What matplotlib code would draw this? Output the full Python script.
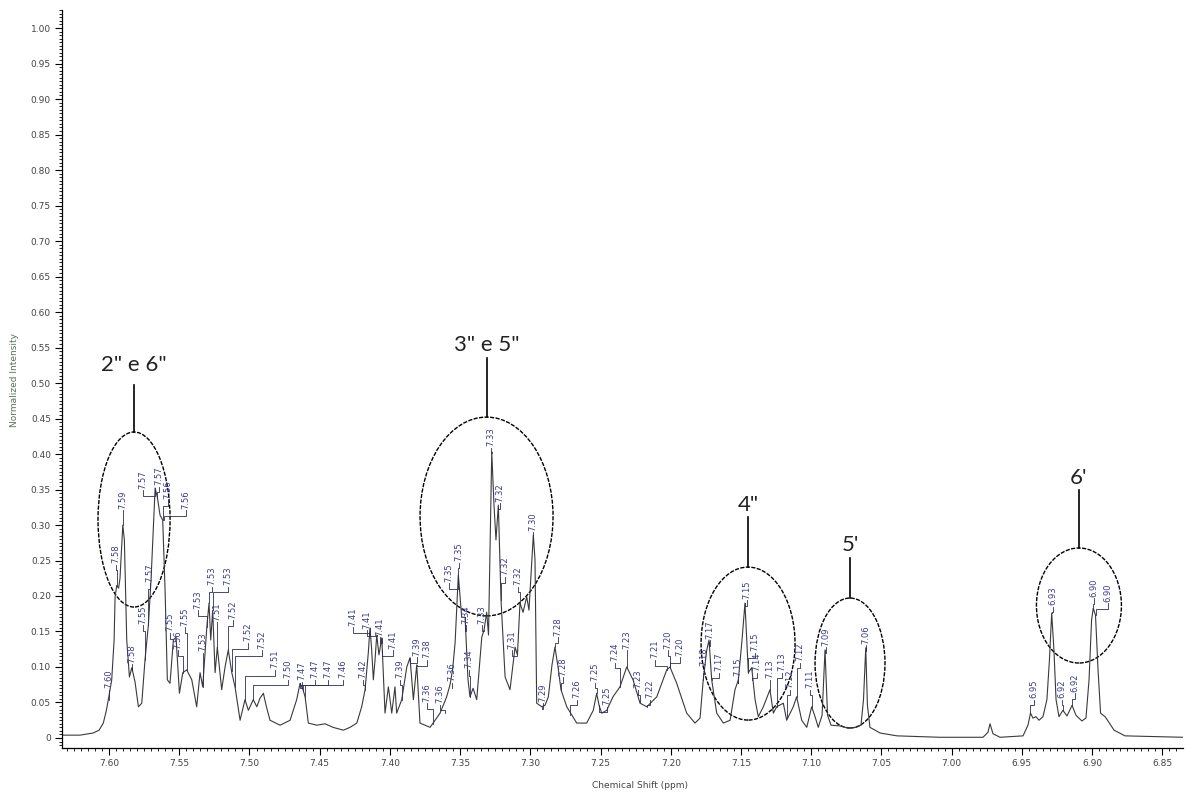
import matplotlib
matplotlib.use("Agg")
import matplotlib.pyplot as plt
from matplotlib.patches import Ellipse
from matplotlib.ticker import MultipleLocator, FuncFormatter

# spectrum trace (ppm, normalized intensity)
shift = [7.6335, 7.6207, 7.6114, 7.6071, 7.6041, 7.6021, 7.6005, 7.5981, 7.5964, 7.5957,
         7.5945, 7.5932, 7.5922, 7.5902, 7.5891, 7.5874, 7.5855, 7.5838, 7.5815, 7.5791,
         7.5767, 7.5744, 7.5720, 7.5701, 7.5672, 7.5656, 7.5637, 7.5618, 7.5601, 7.5585,
         7.5566, 7.5542, 7.5523, 7.5499, 7.5475, 7.5447, 7.5411, 7.5376, 7.5352, 7.5333,
         7.5304, 7.5288, 7.5276, 7.5262, 7.5245, 7.5229, 7.5198, 7.5174, 7.5151, 7.5126,
         7.5103, 7.5067, 7.5032, 7.5008, 7.4973, 7.4948, 7.4925, 7.4901, 7.4882, 7.4854,
         7.4782, 7.4711, 7.4664, 7.4640, 7.4619, 7.4604, 7.4581, 7.4521, 7.4462, 7.4405,
         7.4332, 7.4284, 7.4236, 7.4201, 7.4177, 7.4154, 7.4142, 7.4130, 7.4118, 7.4106,
         7.4094, 7.4078, 7.4058, 7.4035, 7.4011, 7.3987, 7.3964, 7.3952, 7.3916, 7.3880,
         7.3857, 7.3833, 7.3809, 7.3786, 7.3714, 7.3643, 7.3596, 7.3572, 7.3554, 7.3536,
         7.3513, 7.3489, 7.3465, 7.3444, 7.3430, 7.3408, 7.3382, 7.3346, 7.3330, 7.3311,
         7.3298, 7.3275, 7.3259, 7.3245, 7.3228, 7.3209, 7.3180, 7.3145, 7.3109, 7.3092,
         7.3074, 7.3052, 7.3026, 7.3010, 7.2979, 7.2967, 7.2955, 7.2919, 7.2896, 7.2872,
         7.2846, 7.2825, 7.2803, 7.2782, 7.2741, 7.2670, 7.2599, 7.2552, 7.2528, 7.2511,
         7.2492, 7.2456, 7.2412, 7.2362, 7.2314, 7.2269, 7.2219, 7.2171, 7.2100, 7.2029,
         7.2006, 7.1958, 7.1887, 7.1828, 7.1792, 7.1769, 7.1744, 7.1728, 7.1709, 7.1673,
         7.1626, 7.1578, 7.1543, 7.1519, 7.1493, 7.1472, 7.1448, 7.1424, 7.1400, 7.1377,
         7.1341, 7.1294, 7.1270, 7.1246, 7.1199, 7.1175, 7.1128, 7.1104, 7.1068, 7.1032,
         7.0997, 7.0973, 7.0950, 7.0923, 7.0902, 7.0884, 7.0859, 7.0795, 7.0738, 7.0681,
         7.0646, 7.0628, 7.0612, 7.0600, 7.0582, 7.0510, 7.0389, 7.0083, 6.9777, 6.9742,
         6.9727, 6.9706, 6.9656, 6.9492, 6.9457, 6.9439, 6.9421, 6.9400, 6.9378, 6.9350,
         6.9322, 6.9304, 6.9288, 6.9272, 6.9257, 6.9236, 6.9208, 6.9179, 6.9143, 6.9115,
         6.9073, 6.9044, 6.9022, 6.9004, 6.8992, 6.8976, 6.8958, 6.8940, 6.8908, 6.8887,
         6.8844, 6.8766, 6.8353]
intensity = [0.004, 0.004, 0.007, 0.011, 0.021, 0.037, 0.054, 0.082, 0.138, 0.199,
             0.215, 0.211, 0.225, 0.300, 0.279, 0.138, 0.086, 0.099, 0.079, 0.044,
             0.049, 0.110, 0.159, 0.223, 0.352, 0.339, 0.314, 0.307, 0.208, 0.082,
             0.077, 0.138, 0.142, 0.063, 0.092, 0.096, 0.082, 0.044, 0.092, 0.072,
             0.156, 0.190, 0.138, 0.180, 0.092, 0.128, 0.068, 0.100, 0.124, 0.092,
             0.072, 0.025, 0.054, 0.039, 0.054, 0.044, 0.056, 0.063, 0.046, 0.025,
             0.018, 0.025, 0.054, 0.077, 0.068, 0.058, 0.021, 0.018, 0.020, 0.015,
             0.011, 0.015, 0.021, 0.044, 0.068, 0.120, 0.155, 0.124, 0.082, 0.110,
             0.145, 0.117, 0.141, 0.035, 0.072, 0.035, 0.072, 0.035, 0.054, 0.100,
             0.113, 0.054, 0.103, 0.021, 0.015, 0.035, 0.058, 0.075, 0.096, 0.134,
             0.230, 0.170, 0.170, 0.082, 0.058, 0.070, 0.054, 0.142, 0.152, 0.177,
             0.145, 0.403, 0.328, 0.279, 0.328, 0.194, 0.086, 0.068, 0.128, 0.117,
             0.190, 0.177, 0.199, 0.180, 0.286, 0.251, 0.049, 0.044, 0.046, 0.058,
             0.103, 0.128, 0.100, 0.068, 0.044, 0.021, 0.021, 0.039, 0.063, 0.046,
             0.035, 0.039, 0.058, 0.072, 0.100, 0.082, 0.049, 0.044, 0.058, 0.096,
             0.100, 0.077, 0.035, 0.021, 0.028, 0.082, 0.124, 0.138, 0.082, 0.035,
             0.021, 0.025, 0.068, 0.082, 0.138, 0.190, 0.092, 0.099, 0.054, 0.030,
             0.044, 0.068, 0.035, 0.044, 0.049, 0.025, 0.044, 0.058, 0.025, 0.015,
             0.044, 0.030, 0.015, 0.032, 0.124, 0.032, 0.018, 0.017, 0.014, 0.015,
             0.018, 0.054, 0.127, 0.046, 0.015, 0.007, 0.003, 0.001, 0.001, 0.008,
             0.020, 0.006, 0.001, 0.003, 0.018, 0.035, 0.028, 0.030, 0.025, 0.030,
             0.054, 0.110, 0.176, 0.124, 0.054, 0.030, 0.039, 0.031, 0.046, 0.032,
             0.024, 0.028, 0.082, 0.166, 0.183, 0.173, 0.096, 0.035, 0.030, 0.024,
             0.011, 0.003, 0.001]

# peak picking labels: text, peak position, label anchor
peak_text = ["7.60", "7.58", "7.59", "7.58", "7.57", "7.57", "7.56", "7.56", "7.57", "7.55",
             "7.55", "7.56", "7.55", "7.53", "7.53", "7.53", "7.51", "7.53", "7.52", "7.52",
             "7.52", "7.51", "7.50", "7.47", "7.47", "7.47", "7.46", "7.42", "7.41", "7.41",
             "7.41", "7.41", "7.39", "7.39", "7.38", "7.36", "7.36", "7.36", "7.35", "7.35",
             "7.34", "7.34", "7.33", "7.33", "7.32", "7.32", "7.32", "7.31", "7.30", "7.29",
             "7.28", "7.28", "7.26", "7.25", "7.25", "7.24", "7.23", "7.23", "7.22", "7.21",
             "7.20", "7.20", "7.18", "7.17", "7.17", "7.15", "7.15", "7.15", "7.14", "7.13",
             "7.13", "7.12", "7.12", "7.11", "7.09", "7.06", "6.95", "6.93", "6.92", "6.92",
             "6.90", "6.90"]
peak_ppm = [7.6000, 7.5945, 7.5902, 7.5838, 7.5672, 7.5656, 7.5618, 7.5612, 7.5720, 7.5744,
            7.5542, 7.5475, 7.5447, 7.5333, 7.5304, 7.5288, 7.5229, 7.5262, 7.5151, 7.5126,
            7.5103, 7.5032, 7.4973, 7.4640, 7.4640, 7.4619, 7.4604, 7.4177, 7.4142, 7.4094,
            7.4058, 7.4058, 7.3916, 7.3857, 7.3809, 7.3693, 7.3608, 7.3555, 7.3513, 7.3513,
            7.3465, 7.3430, 7.3330, 7.3275, 7.3228, 7.3209, 7.3074, 7.3092, 7.2979, 7.2919,
            7.2825, 7.2782, 7.2717, 7.2528, 7.2511, 7.2362, 7.2314, 7.2219, 7.2171, 7.2029,
            7.2006, 7.2006, 7.1769, 7.1728, 7.1709, 7.1472, 7.1519, 7.1448, 7.1424, 7.1294,
            7.1246, 7.1104, 7.1175, 7.0997, 7.0902, 7.0612, 6.9439, 6.9288, 6.9208, 6.9143,
            6.8992, 6.8976]
peak_int = [0.054, 0.215, 0.300, 0.099, 0.352, 0.339, 0.307, 0.307, 0.159, 0.110,
            0.138, 0.092, 0.096, 0.072, 0.156, 0.190, 0.128, 0.180, 0.124, 0.094,
            0.072, 0.054, 0.054, 0.077, 0.077, 0.068, 0.058, 0.068, 0.155, 0.145,
            0.141, 0.124, 0.054, 0.113, 0.103, 0.020, 0.035, 0.070, 0.225, 0.227,
            0.170, 0.058, 0.152, 0.403, 0.325, 0.194, 0.190, 0.117, 0.286, 0.044,
            0.128, 0.068, 0.032, 0.063, 0.046, 0.072, 0.100, 0.050, 0.044, 0.096,
            0.100, 0.100, 0.082, 0.135, 0.082, 0.190, 0.082, 0.092, 0.082, 0.068,
            0.044, 0.058, 0.030, 0.044, 0.124, 0.127, 0.035, 0.176, 0.039, 0.046,
            0.183, 0.173]
label_ppm = [7.6000, 7.5950, 7.5900, 7.5836, 7.5758, 7.5644, 7.5580, 7.5452, 7.5708, 7.5758,
             7.5566, 7.5509, 7.5459, 7.5331, 7.5366, 7.5267, 7.5231, 7.5153, 7.5117, 7.5010,
             7.4911, 7.4818, 7.4726, 7.4626, 7.4533, 7.4441, 7.4334, 7.4192, 7.4263, 7.4163,
             7.4071, 7.3978, 7.3928, 7.3807, 7.3736, 7.3736, 7.3643, 7.3558, 7.3579, 7.3508,
             7.3458, 7.3437, 7.3344, 7.3280, 7.3216, 7.3180, 7.3088, 7.3130, 7.2981, 7.2910,
             7.2803, 7.2768, 7.2668, 7.2540, 7.2455, 7.2397, 7.2312, 7.2234, 7.2148, 7.2113,
             7.2020, 7.1935, 7.1762, 7.1720, 7.1659, 7.1458, 7.1522, 7.1400, 7.1386, 7.1294,
             7.1208, 7.1080, 7.1151, 7.1009, 7.0895, 7.0610, 6.9414, 6.9279, 6.9215, 6.9122,
             6.8987, 6.8887]
label_int = [0.068, 0.244, 0.321, 0.104, 0.349, 0.354, 0.335, 0.321, 0.218, 0.159,
             0.148, 0.124, 0.156, 0.120, 0.180, 0.213, 0.163, 0.213, 0.166, 0.134,
             0.124, 0.096, 0.082, 0.079, 0.082, 0.082, 0.082, 0.082, 0.156, 0.152,
             0.142, 0.124, 0.082, 0.114, 0.110, 0.049, 0.047, 0.078, 0.218, 0.247,
             0.159, 0.096, 0.159, 0.409, 0.331, 0.227, 0.213, 0.124, 0.290, 0.049,
             0.142, 0.086, 0.054, 0.078, 0.044, 0.106, 0.124, 0.068, 0.054, 0.110,
             0.124, 0.114, 0.099, 0.138, 0.092, 0.194, 0.086, 0.120, 0.092, 0.082,
             0.092, 0.106, 0.068, 0.068, 0.128, 0.131, 0.054, 0.185, 0.054, 0.063,
             0.197, 0.190]

# proton assignments (ellipse centre, size, text)
group_text = ['2" e 6"', '3" e 5"', '4"', "5'", "6'"]
group_ppm = [7.5822, 7.3312, 7.1450, 7.0724, 6.9094]
group_int = [0.3077, 0.3120, 0.1330, 0.1056, 0.1866]
group_w = [0.0513, 0.0947, 0.0669, 0.0498, 0.0605]
group_h = [0.2465, 0.2800, 0.2155, 0.1830, 0.1620]
group_line_top = [0.497, 0.535, 0.311, 0.2535, 0.349]
group_text_y = [0.525, 0.554, 0.328, 0.272, 0.366]

fig = plt.figure(figsize=(11.87, 7.96), dpi=100)
ax = fig.add_axes([62 / 1187, 48 / 796, 1121 / 1187, 738 / 796])

ax.plot(shift, intensity, color="#3a3a3a", lw=0.8)

lab_col = "#3b3b8f"
for t, px, py, lx, ly in zip(peak_text, peak_ppm, peak_int, label_ppm, label_int):
    e = ly - 0.008
    ax.plot([px, px, lx, lx], [py, e, e, ly], color="#2c2c5a", lw=0.6)
    ax.text(lx, ly + 0.002, t, rotation=90, ha="center", va="bottom",
            fontsize=6, color=lab_col)

for t, cx, cy, w, h, lt, ty in zip(group_text, group_ppm, group_int, group_w, group_h,
                                   group_line_top, group_text_y):
    ax.add_patch(Ellipse((cx, cy), w, h, fill=False, ec="black", lw=1.0, ls=(0, (3, 1))))
    ax.plot([cx, cx], [cy + h / 2, lt], color="black", lw=1.2)
    ax.text(cx, ty, t, ha="center", va="center", fontsize=16, family="Lato", color="#222222")

ax.set_xlim(7.6335, 6.8353)
ax.set_ylim(-0.0141, 1.0254)

ax.xaxis.set_major_locator(MultipleLocator(0.05))
ax.xaxis.set_minor_locator(MultipleLocator(0.005))
ax.yaxis.set_major_locator(MultipleLocator(0.05))
ax.yaxis.set_minor_locator(MultipleLocator(0.005))
ax.xaxis.set_major_formatter(FuncFormatter(lambda v, p: "%.2f" % v))
ax.yaxis.set_major_formatter(FuncFormatter(lambda v, p: "0" if abs(v) < 1e-9 else "%.2f" % v))

ax.tick_params(which="major", direction="out", length=5, width=0.8, labelsize=6.5,
               labelcolor="#444444", pad=3)
ax.tick_params(which="minor", direction="out", length=2.5, width=0.6)
for s in ["top", "right"]:
    ax.spines[s].set_visible(False)
for s in ["left", "bottom"]:
    ax.spines[s].set_linewidth(0.9)

fig.text(640 / 1187, 1 - 786 / 796, "Chemical Shift (ppm)", ha="center", va="center",
         fontsize=6.5, color="#444444")
fig.text(15 / 1187, 1 - 380 / 796, "Normalized Intensity", ha="center", va="center",
         rotation=90, fontsize=6.5, color="#5a7060")

fig.savefig("out.png", dpi=100)
